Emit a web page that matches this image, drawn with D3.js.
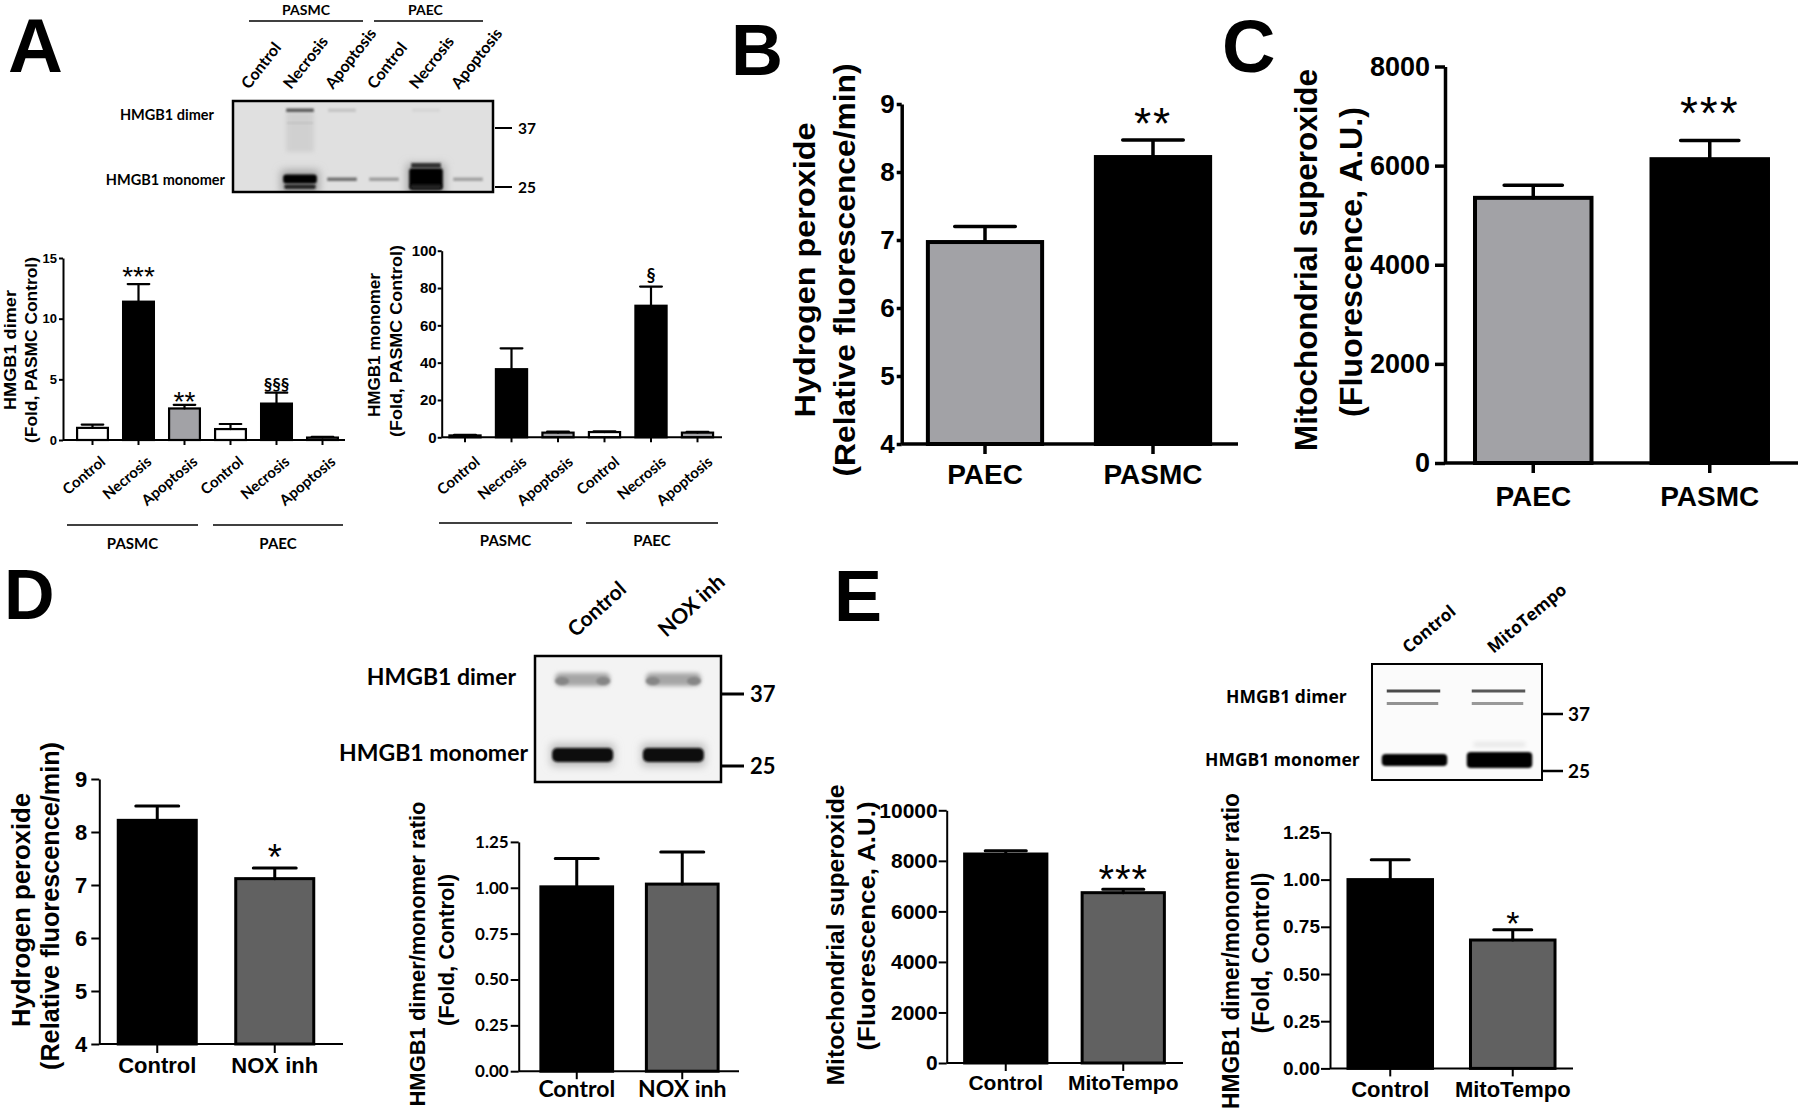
<!DOCTYPE html>
<html><head><meta charset="utf-8">
<script src="https://cdn.jsdelivr.net/npm/d3@7"></script>
<style>body{margin:0;background:#fff}svg{display:block}</style>
</head><body>
<svg id="fig" width="1800" height="1109"></svg>
<script>
// ---------------- DATA ----------------
const aCategories = ["Control","Necrosis","Apoptosis","Control","Necrosis","Apoptosis"];
const aGroups = ["PASMC","PAEC"];
const aDimerMean = [1.0, 11.4, 2.6, 0.9, 3.0, 0.2];
const aDimerSEM  = [0.27, 1.45, 0.3, 0.42, 0.9, 0.05];
const aDimerSig  = ["", "***", "**", "", "§§§", ""];
const aDimerTicks = [0, 5, 10, 15];
const aMonomerMean = [1.0, 36.5, 2.5, 2.8, 70.5, 2.5];
const aMonomerSEM  = [0.3, 11.2, 0.5, 0.4, 10.3, 0.4];
const aMonomerSig  = ["", "", "", "", "§", ""];
const aMonomerTicks = [0, 20, 40, 60, 80, 100];
const aBlotMonomer = [0.04, 1.0, 0.5, 0.3, 1.0, 0.28];
const aBlotMonomerSize = [1, 1, 1, 1, 2.4, 1];
const aBlotDimer = [0, 0.6, 0.12, 0, 0.05, 0];

const bcCategories = ["PAEC", "PASMC"];
const bMean = [6.97, 8.22];
const bSEM  = [0.23, 0.25];
const bSig  = ["", "**"];
const bTicks = [4, 5, 6, 7, 8, 9];
const cMean = [5350, 6130];
const cSEM  = [255, 375];
const cSig  = ["", "***"];
const cTicks = [0, 2000, 4000, 6000, 8000];

const dCategories = ["Control", "NOX inh"];
const dH2O2Mean = [8.22, 7.12];
const dH2O2SEM  = [0.27, 0.20];
const dH2O2Sig  = ["", "*"];
const dH2O2Ticks = [4, 5, 6, 7, 8, 9];
const dRatioMean = [1.005, 1.02];
const dRatioSEM  = [0.155, 0.175];
const dRatioSig  = ["", ""];
const ratioTicks = [0, 0.25, 0.5, 0.75, 1.0, 1.25];
const dBlotDimer = [0.45, 0.45];
const dBlotMonomer = [1.0, 1.0];

const eCategories = ["Control", "MitoTempo"];
const eSupMean = [8270, 6740];
const eSupSEM  = [130, 140];
const eSupSig  = ["", "***"];
const eSupTicks = [0, 2000, 4000, 6000, 8000, 10000];
const eRatioMean = [1.0, 0.68];
const eRatioSEM  = [0.105, 0.055];
const eRatioSig  = ["", "*"];
const eBlotDimer = [0.7, 0.65];
const eBlotMonomer = [0.75, 1.0];

const blotMarkers = ["37", "25"];

// ---------------- STYLE ----------------
const ARIAL = "'Liberation Sans', Arial, Helvetica, sans-serif";
const CAL = "Lato, 'Open Sans', sans-serif";
const SEG = "'Open Sans', 'DejaVu Sans', sans-serif";
const WHITE = "#ffffff", BLACK = "#000000", LGRAY = "#a2a2a6", DGRAY = "#616161";

const svg = d3.select("#fig");
svg.append("rect").attr("width", 1800).attr("height", 1109).attr("fill", "#fff");
const defs = svg.append("defs");
[["blur1", 1.1], ["blur2", 2.2], ["blur05", 0.6], ["blur4", 4]].forEach(([id, s]) => {
  defs.append("filter").attr("id", id).attr("x", "-50%").attr("y", "-50%")
    .attr("width", "200%").attr("height", "200%")
    .append("feGaussianBlur").attr("stdDeviation", s);
});

function txt(g, t, x, y, font, size, opts = {}) {
  const e = g.append("text").attr("x", x).attr("y", y).attr("fill", "#000")
    .style("font-family", font).style("font-size", size + "px")
    .style("font-weight", opts.weight || "bold")
    .attr("text-anchor", opts.anchor || "start").text(t);
  if (opts.transform) e.attr("transform", opts.transform);
  if (opts.dy) e.attr("dy", opts.dy);
  return e;
}

function barChart(o) {
  const g = svg.append("g");
  const idx = d3.range(o.cats.length);
  const x = d3.scaleBand().domain(idx).range(o.band).paddingInner(o.pad).paddingOuter(o.pad / 2);
  const y = d3.scaleLinear().domain(o.yDomain).range(o.yRange);
  const y0 = y(o.yDomain[0]);
  const cx = i => x(i) + x.bandwidth() / 2;

  g.selectAll(null).data(o.mean).join("rect")
    .attr("x", (d, i) => x(i)).attr("width", x.bandwidth())
    .attr("y", d => y(d)).attr("height", d => Math.max(0, y0 - y(d)))
    .attr("fill", (d, i) => o.fills[i]).attr("stroke", "#000").attr("stroke-width", o.barW);

  const cw = x.bandwidth() * o.cap;
  g.selectAll(null).data(o.mean).join("path")
    .attr("d", (d, i) => {
      const t = y(d + o.err[i]);
      return `M${cx(i)},${y(d)}V${t}M${cx(i) - cw / 2},${t}H${cx(i) + cw / 2}`;
    })
    .attr("fill", "none").attr("stroke", "#000").attr("stroke-width", o.errW).attr("stroke-linecap", "round");

  // y axis
  const ya = g.append("g").attr("transform", `translate(${o.axisX},0)`)
    .call(d3.axisLeft(y).tickValues(o.ticks).tickFormat(o.fmt).tickSize(o.tickLen).tickSizeOuter(0).tickPadding(o.tickPad));
  ya.selectAll("path,line").attr("stroke", "#000").attr("stroke-width", o.axisW);
  ya.selectAll("text").attr("fill", "#000").style("font-family", o.tickFont)
    .style("font-size", o.tickSize + "px").style("font-weight", "bold");

  // x axis
  g.append("line").attr("x1", o.axisX).attr("x2", o.xEnd).attr("y1", y0).attr("y2", y0)
    .attr("stroke", "#000").attr("stroke-width", o.axisW);
  const xa = g.append("g").attr("transform", `translate(0,${y0})`)
    .call(d3.axisBottom(x).tickFormat(i => o.cats[i]).tickSize(o.xTickLen).tickSizeOuter(0));
  xa.select(".domain").remove();
  xa.selectAll("line").attr("stroke", "#000").attr("stroke-width", o.axisW);
  const xt = xa.selectAll("text").attr("fill", "#000").style("font-family", o.xFont)
    .style("font-size", o.xSize + "px").style("font-weight", "bold");
  if (o.xRot) {
    xt.attr("y", 0).attr("dy", "0.72em").attr("text-anchor", "end")
      .attr("transform", `translate(${o.xOff[0]},${o.xOff[1]}) rotate(${o.xRot})`);
  } else {
    xt.attr("y", o.xBase - y0).attr("dy", 0);
  }

  // significance marks
  o.sig.forEach((s, i) => {
    if (!s) return;
    const gap = Array.isArray(o.sigGap) ? o.sigGap[i] : o.sigGap;
    const star = s[0] === "*";
    const fs = star ? o.starSize : o.sectSize;
    const c = star ? 0.58 : 0.33;
    g.append("text").attr("x", cx(i)).attr("y", y(o.mean[i] + o.err[i]) - gap + c * fs)
      .attr("text-anchor", "middle").attr("fill", "#000")
      .style("font-family", star ? ARIAL : CAL).style("font-size", fs + "px")
      .style("font-weight", star ? "normal" : "bold")
      .style("letter-spacing", star ? (o.starSpacing || 0) + "px" : "0px")
      .text(s);
  });
  return { x, y, g };
}

function yLabel(lines) {
  lines.forEach(l => {
    svg.append("text")
      .attr("transform", `translate(${l.cx + 0.28 * l.fs},${l.cy}) rotate(-90)`)
      .attr("text-anchor", "middle").attr("fill", "#000")
      .style("font-family", l.font || ARIAL).style("font-size", l.fs + "px").style("font-weight", "bold")
      .attr("textLength", l.len).attr("lengthAdjust", "spacingAndGlyphs")
      .text(l.t);
  });
}

function markers(g, x1, x2, ys, tx, size, lw) {
  ys.forEach((yy, i) => {
    g.append("line").attr("x1", x1).attr("x2", x2).attr("y1", yy).attr("y2", yy)
      .attr("stroke", "#000").attr("stroke-width", lw);
    txt(g, blotMarkers[i], tx, yy, CAL, size, { dy: "0.36em" });
  });
}

// ---------------- PANEL LETTERS ----------------
txt(svg, "A", 8, 72, ARIAL, 76);
txt(svg, "B", 731, 75, ARIAL, 72);
txt(svg, "C", 1222, 72, ARIAL, 74);
txt(svg, "D", 4, 619, ARIAL, 70);
txt(svg, "E", 834, 621, ARIAL, 72);

// ---------------- PANEL A : blot ----------------
(function () {
  const g = svg.append("g");
  const X0 = 233, Y0 = 101, W = 260, H = 91;
  defs.append("clipPath").attr("id", "clipA").append("rect").attr("x", X0).attr("y", Y0).attr("width", W).attr("height", H);
  g.append("rect").attr("x", X0).attr("y", Y0).attr("width", W).attr("height", H).attr("fill", "#e0e0e0");
  const inner = g.append("g").attr("clip-path", "url(#clipA)");
  const lanes = d3.scaleBand().domain(d3.range(6)).range([237, 489]).paddingInner(0.2).paddingOuter(0.1);
  const shade = d3.interpolateRgb("#e0e0e0", "#000000");
  aBlotDimer.forEach((k, i) => {
    if (k <= 0) return;
    const lx = lanes(i), bw = lanes.bandwidth();
    if (k > 0.5) {
      inner.append("rect").attr("x", lx + 3).attr("width", bw - 6).attr("y", 112).attr("height", 40)
        .attr("fill", shade(0.07)).attr("filter", "url(#blur2)");
      inner.append("rect").attr("x", lx + 4).attr("width", bw - 8).attr("y", 122).attr("height", 2)
        .attr("fill", shade(0.13)).attr("filter", "url(#blur1)");
    }
    inner.append("rect").attr("x", lx + 3).attr("width", bw - 6).attr("y", 108.5).attr("height", 3.5)
      .attr("fill", shade(k)).attr("filter", "url(#blur1)");
  });
  aBlotMonomer.forEach((k, i) => {
    if (k <= 0.05) return;
    const lx = lanes(i), bw = lanes.bandwidth(), s = aBlotMonomerSize[i];
    if (k > 0.9) {
      const h = 9 * s;
      inner.append("rect").attr("x", lx - 2).attr("width", bw + 4).attr("y", 179 - h / 2 - 4).attr("height", h + 14)
        .attr("fill", shade(0.3)).attr("filter", "url(#blur4)");
      inner.append("rect").attr("x", lx).attr("width", bw).attr("y", 179 - h / 2).attr("height", h).attr("rx", 3)
        .attr("fill", "#000").attr("filter", "url(#blur1)");
      inner.append("rect").attr("x", lx + 1).attr("width", bw - 2).attr("y", 184.5).attr("height", 4.5).attr("rx", 2)
        .attr("fill", "#222").attr("filter", "url(#blur1)");
      if (s > 1.5) inner.append("rect").attr("x", lx + 2).attr("width", bw - 4).attr("y", 163).attr("height", 5)
        .attr("fill", "#333").attr("filter", "url(#blur1)");
    } else {
      inner.append("rect").attr("x", lx + 2).attr("width", bw - 4).attr("y", 177.5).attr("height", 3.5)
        .attr("fill", shade(k)).attr("filter", "url(#blur1)");
    }
  });
  g.append("rect").attr("x", X0).attr("y", Y0).attr("width", W).attr("height", H)
    .attr("fill", "none").attr("stroke", "#000").attr("stroke-width", 2.5);
  markers(g, 495, 512, [128, 187], 518, 15.5, 2);
  txt(g, "HMGB1 dimer", 214, 120, CAL, 14.5, { anchor: "end" });
  txt(g, "HMGB1 monomer", 225, 185, CAL, 14.5, { anchor: "end" });
  aCategories.forEach((c, i) => {
    const lx = lanes(i) + lanes.bandwidth() / 2 - 9;
    txt(g, c, 0, 0, CAL, 16, { transform: `translate(${lx},90) rotate(-52)` });
  });
  // group headers
  [[249, 363], [374, 483]].forEach((r, i) => {
    g.append("line").attr("x1", r[0]).attr("x2", r[1]).attr("y1", 21).attr("y2", 21).attr("stroke", "#000").attr("stroke-width", 1.5);
    txt(g, aGroups[i], (r[0] + r[1]) / 2 + (i ? -3 : 0), 15, CAL, 14, { anchor: "middle" });
  });
})();

// ---------------- PANEL A : bar charts ----------------
const aFills = [WHITE, BLACK, LGRAY, WHITE, BLACK, LGRAY];
barChart({
  cats: aCategories, mean: aDimerMean, err: aDimerSEM, fills: aFills, sig: aDimerSig,
  yDomain: [0, 15], yRange: [440, 258], ticks: aDimerTicks, fmt: d3.format("d"),
  axisX: 63, xEnd: 345, band: [69.5, 345.5], pad: 0.33,
  barW: 2.2, errW: 2.2, axisW: 2, cap: 0.7,
  tickLen: 4, tickPad: 2, tickFont: ARIAL, tickSize: 13,
  xTickLen: 5, xFont: CAL, xSize: 15, xRot: -40, xOff: [7, 15],
  sigGap: [0, 14, 10, 0, 8, 0], starSize: 28, sectSize: 17
});
barChart({
  cats: aCategories, mean: aMonomerMean, err: aMonomerSEM, fills: aFills, sig: aMonomerSig,
  yDomain: [0, 100], yRange: [437.3, 250.7], ticks: aMonomerTicks, fmt: d3.format("d"),
  axisX: 441.7, xEnd: 722, band: [441.75, 720.75], pad: 0.33,
  barW: 2.2, errW: 2.2, axisW: 2, cap: 0.7,
  tickLen: 4, tickPad: 1, tickFont: ARIAL, tickSize: 15,
  xTickLen: 5, xFont: CAL, xSize: 15, xRot: -40, xOff: [9, 18],
  sigGap: [0, 0, 0, 0, 10.5, 0], starSize: 28, sectSize: 18
});
// group lines under A charts
(function () {
  const g = svg.append("g");
  [[[67, 198], [213, 343], 525, 549], [[439, 572], [586, 718], 523, 546]].forEach(([r1, r2, ly, ty]) => {
    [r1, r2].forEach((r, i) => {
      g.append("line").attr("x1", r[0]).attr("x2", r[1]).attr("y1", ly).attr("y2", ly).attr("stroke", "#000").attr("stroke-width", 1.5);
      txt(g, aGroups[i], (r[0] + r[1]) / 2, ty, CAL, 15, { anchor: "middle" });
    });
  });
})();
yLabel([
  { t: "HMGB1 dimer", cx: 11, cy: 350, fs: 17, len: 120 },
  { t: "(Fold, PASMC Control)", cx: 32, cy: 350, fs: 17, len: 186 },
  { t: "HMGB1 monomer", cx: 375, cy: 345, fs: 17, len: 144 },
  { t: "(Fold, PASMC Control)", cx: 397, cy: 341, fs: 17, len: 192 }
]);

// ---------------- PANEL B ----------------
barChart({
  cats: bcCategories, mean: bMean, err: bSEM, fills: [LGRAY, BLACK], sig: bSig,
  yDomain: [4, 9], yRange: [444, 104], ticks: bTicks, fmt: d3.format("d"),
  axisX: 901.7, xEnd: 1238, band: [901, 1237], pad: 0.32,
  barW: 4, errW: 3.5, axisW: 3.5, cap: 0.53,
  tickLen: 5, tickPad: 2, tickFont: ARIAL, tickSize: 26,
  xTickLen: 10, xFont: ARIAL, xSize: 28, xBase: 484,
  sigGap: 27, starSize: 44, starSpacing: 2
});
yLabel([
  { t: "Hydrogen peroxide", cx: 807, cy: 270, fs: 30, len: 295 },
  { t: "(Relative fluorescence/min)", cx: 847, cy: 270, fs: 30, len: 413 }
]);

// ---------------- PANEL C ----------------
barChart({
  cats: bcCategories, mean: cMean, err: cSEM, fills: [LGRAY, BLACK], sig: cSig,
  yDomain: [0, 8000], yRange: [463, 66.5], ticks: cTicks, fmt: d3.format("d"),
  axisX: 1445, xEnd: 1798, band: [1445, 1798], pad: 0.34,
  barW: 4, errW: 3.5, axisW: 3.5, cap: 0.5,
  tickLen: 10, tickPad: 5, tickFont: ARIAL, tickSize: 27,
  xTickLen: 10, xFont: ARIAL, xSize: 28, xBase: 506,
  sigGap: 38.5, starSize: 46, starSpacing: 2
});
yLabel([
  { t: "Mitochondrial superoxide", cx: 1308, cy: 260, fs: 31, len: 382 },
  { t: "(Fluorescence, A.U.)", cx: 1353, cy: 262, fs: 31, len: 310 }
]);

// ---------------- PANEL D ----------------
barChart({
  cats: dCategories, mean: dH2O2Mean, err: dH2O2SEM, fills: [BLACK, DGRAY], sig: dH2O2Sig,
  yDomain: [4, 9], yRange: [1044, 779], ticks: dH2O2Ticks, fmt: d3.format("d"),
  axisX: 99.3, xEnd: 343, band: [98.5, 333.5], pad: 0.336,
  barW: 3, errW: 3, axisW: 2, cap: 0.55,
  tickLen: 8, tickPad: 4, tickFont: ARIAL, tickSize: 22,
  xTickLen: 9, xFont: ARIAL, xSize: 22, xBase: 1073,
  sigGap: 18.7, starSize: 36
});
yLabel([
  { t: "Hydrogen peroxide", cx: 23, cy: 910, fs: 25, len: 234 },
  { t: "(Relative fluorescence/min)", cx: 52, cy: 906, fs: 25, len: 328 }
]);
barChart({
  cats: dCategories, mean: dRatioMean, err: dRatioSEM, fills: [BLACK, DGRAY], sig: dRatioSig,
  yDomain: [0, 1.25], yRange: [1071.2, 841.9], ticks: ratioTicks, fmt: d3.format(".2f"),
  axisX: 518.7, xEnd: 739, band: [524, 735], pad: 0.32,
  barW: 3, errW: 3, axisW: 2, cap: 0.6,
  tickLen: 8, tickPad: 2, tickFont: CAL, tickSize: 17,
  xTickLen: 8, xFont: CAL, xSize: 23, xBase: 1097,
  sigGap: 15, starSize: 34
});
yLabel([
  { t: "HMGB1 dimer/monomer ratio", cx: 419, cy: 954, fs: 22, len: 305 },
  { t: "(Fold, Control)", cx: 448, cy: 950, fs: 22, len: 152 }
]);
// D blot
(function () {
  const g = svg.append("g");
  const X0 = 535, Y0 = 656, W = 186, H = 126;
  g.append("rect").attr("x", X0).attr("y", Y0).attr("width", W).attr("height", H).attr("fill", "#f3f3f3");
  const lanes = d3.scaleBand().domain([0, 1]).range([X0, X0 + W]).paddingInner(0.35).paddingOuter(0.2);
  const shade = d3.interpolateRgb("#f3f3f3", "#000000");
  dBlotDimer.forEach((k, i) => {
    const lx = lanes(i), bw = lanes.bandwidth();
    g.append("rect").attr("x", lx + 2).attr("width", bw - 4).attr("y", 673).attr("height", 13).attr("rx", 5)
      .attr("fill", shade(k * 0.7)).attr("filter", "url(#blur2)");
    [lx + 9, lx + bw - 9].forEach(px => {
      g.append("ellipse").attr("cx", px).attr("cy", 681).attr("rx", 7).attr("ry", 4)
        .attr("fill", shade(k)).attr("filter", "url(#blur1)");
    });
  });
  dBlotMonomer.forEach((k, i) => {
    const lx = lanes(i), bw = lanes.bandwidth();
    g.append("rect").attr("x", lx - 2).attr("width", bw + 4).attr("y", 744).attr("height", 22)
      .attr("fill", shade(0.25 * k)).attr("filter", "url(#blur4)");
    g.append("rect").attr("x", lx - 1).attr("width", bw + 2).attr("y", 748).attr("height", 14).attr("rx", 5)
      .attr("fill", shade(0.95 * k)).attr("filter", "url(#blur1)");
  });
  g.append("rect").attr("x", X0).attr("y", Y0).attr("width", W).attr("height", H)
    .attr("fill", "none").attr("stroke", "#000").attr("stroke-width", 2.5);
  markers(g, 722, 744, [694, 766], 750, 22, 3);
  txt(g, "HMGB1 dimer", 516, 685, CAL, 23, { anchor: "end" });
  txt(g, "HMGB1 monomer", 528, 761, CAL, 23, { anchor: "end" });
  dCategories.forEach((c, i) => {
    const lx = lanes(i) + lanes.bandwidth() / 2 - 7;
    txt(g, c, 0, 0, CAL, 21, { transform: `translate(${lx},638) rotate(-42)` });
  });
})();

// ---------------- PANEL E ----------------
barChart({
  cats: eCategories, mean: eSupMean, err: eSupSEM, fills: [BLACK, DGRAY], sig: eSupSig,
  yDomain: [0, 10000], yRange: [1063, 810.3], ticks: eSupTicks, fmt: d3.format("d"),
  axisX: 946.7, xEnd: 1183, band: [947, 1182], pad: 0.30,
  barW: 3, errW: 3, axisW: 2, cap: 0.5,
  tickLen: 8, tickPad: 1, tickFont: ARIAL, tickSize: 21,
  xTickLen: 8, xFont: ARIAL, xSize: 21, xBase: 1090,
  sigGap: 19, starSize: 40, starSpacing: 1
});
yLabel([
  { t: "Mitochondrial superoxide", cx: 837, cy: 935, fs: 24, len: 301 },
  { t: "(Fluorescence, A.U.)", cx: 868, cy: 926, fs: 24, len: 249 }
]);
barChart({
  cats: eCategories, mean: eRatioMean, err: eRatioSEM, fills: [BLACK, DGRAY], sig: eRatioSig,
  yDomain: [0, 1.25], yRange: [1068.4, 832.4], ticks: ratioTicks, fmt: d3.format(".2f"),
  axisX: 1330, xEnd: 1573, band: [1329, 1574], pad: 0.31,
  barW: 3, errW: 3, axisW: 2, cap: 0.45,
  tickLen: 9, tickPad: 1, tickFont: ARIAL, tickSize: 19,
  xTickLen: 8, xFont: ARIAL, xSize: 22, xBase: 1097,
  sigGap: 14.5, starSize: 34
});
yLabel([
  { t: "HMGB1 dimer/monomer ratio", cx: 1233, cy: 951, fs: 23, len: 316 },
  { t: "(Fold, Control)", cx: 1263, cy: 953, fs: 23, len: 161 }
]);
// E blot
(function () {
  const g = svg.append("g");
  const X0 = 1372, Y0 = 664, W = 170, H = 116;
  g.append("rect").attr("x", X0).attr("y", Y0).attr("width", W).attr("height", H).attr("fill", "#fbfbfb");
  const lanes = d3.scaleBand().domain([0, 1]).range([X0, X0 + W]).paddingInner(0.3).paddingOuter(0.15);
  const shade = d3.interpolateRgb("#fbfbfb", "#000000");
  eBlotDimer.forEach((k, i) => {
    const lx = lanes(i), bw = lanes.bandwidth();
    g.append("rect").attr("x", lx + 2).attr("width", bw - 6).attr("y", 689.5).attr("height", 3)
      .attr("fill", shade(k)).attr("filter", "url(#blur05)");
    g.append("rect").attr("x", lx + 2).attr("width", bw - 8).attr("y", 702).attr("height", 3)
      .attr("fill", shade(k * 0.6)).attr("filter", "url(#blur05)");
  });
  eBlotMonomer.forEach((k, i) => {
    const lx = lanes(i), bw = lanes.bandwidth(), h = 16 * k;
    g.append("rect").attr("x", lx - 3).attr("width", bw + 6).attr("y", 760 - h / 2).attr("height", h).attr("rx", 4)
      .attr("fill", "#050505").attr("filter", "url(#blur1)");
  });
  g.append("rect").attr("x", lanes(1) + 4).attr("width", lanes.bandwidth() - 8).attr("y", 742).attr("height", 5)
    .attr("fill", shade(0.08)).attr("filter", "url(#blur2)");
  g.append("rect").attr("x", X0).attr("y", Y0).attr("width", W).attr("height", H)
    .attr("fill", "none").attr("stroke", "#000").attr("stroke-width", 2);
  markers(g, 1543, 1563, [714, 771], 1568, 19, 2.5);
  txt(g, "HMGB1 dimer", 1226, 703, SEG, 17.5);
  txt(g, "HMGB1 monomer", 1205, 766, SEG, 17.5);
  eCategories.forEach((c, i) => {
    const lx = lanes(i) + lanes.bandwidth() / 2 - 6;
    txt(g, c, 0, 0, SEG, 17, { transform: `translate(${lx},654) rotate(-40)` });
  });
})();
</script>
</body></html>
